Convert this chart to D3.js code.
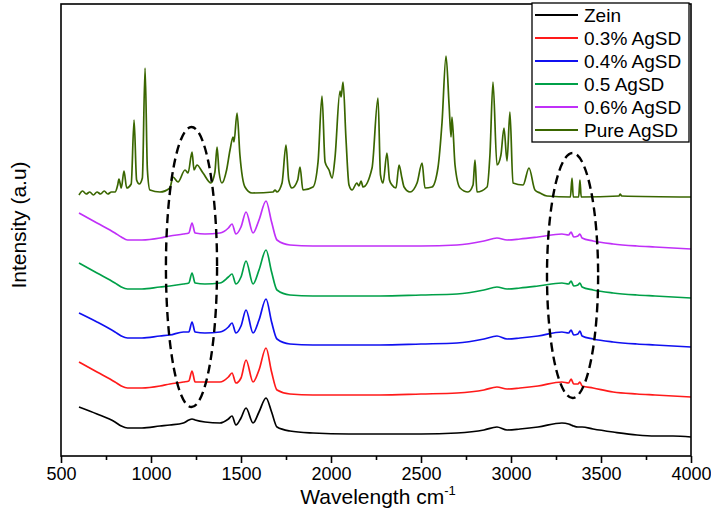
<!DOCTYPE html>
<html>
<head>
<meta charset="utf-8">
<script src="https://cdn.jsdelivr.net/npm/d3@7"></script>
<style>
  html, body { margin: 0; padding: 0; background: #fff; }
  svg { display: block; font-family: Arial, "Liberation Sans", sans-serif; }
</style>
</head>
<body>
<svg id="chart" width="711" height="521"></svg>
<script>
// ---------------- DATA ----------------
const seriesNames = ["Zein", "0.3% AgSD", "0.4% AgSD", "0.5 AgSD", "0.6% AgSD", "Pure AgSD"];
const seriesColors = ["#000000", "#ff1a1a", "#1010f0", "#00a048", "#c030f8", "#3a6600"];

// shared wavenumber grid for the film spectra (cm-1)
const waveGrid = [600,700,800,835,870,950,1050,1105,1180,1210,1228,1245,1300,1383,1430,1450,1472,1500,1528,1567,1600,1639,1670,1700,1772,1900,2100,2272,2500,2700,2850,2922,2978,3050,3150,3283,3320,3334,3348,3372,3383,3395,3456,3567,3700,3800,3900,4000];

// stacked intensities (a.u., offsets included)
const zein   = [49,42,34,30,28,28,30,31,33,36,37,36,34,33,37,40,31,38,48,33,44,58,44,29,25,23,22,22,22,23,26,29,26,27,29,33,32,31,30,29,29,29,27,24,21,20,20,19];
const agsd03 = [94,84,74,70,68,68,70,72,74,75,85,74,74,74,79,83,73,78,96,74,86,108,84,66,62,61,61,61,62,63,66,69,67,68,70,74,73,77,72,72,74,70,68,64,62,61,60,59];
const agsd04 = [143,134,124,120,118,118,120,121,124,124,134,124,123,124,129,133,123,130,146,123,136,157,134,117,112,111,111,111,112,113,117,120,117,118,120,124,123,126,121,122,125,120,117,114,112,111,110,109];
const agsd05 = [193,183,173,169,167,167,169,170,172,173,183,173,172,173,179,182,172,179,195,172,186,206,184,166,161,160,160,160,161,162,166,169,167,168,170,173,172,175,170,171,173,169,166,163,161,160,159,158];
const agsd06 = [243,233,223,219,216,216,218,220,222,223,233,223,222,223,228,232,222,229,244,223,236,255,234,216,211,210,210,210,210,211,215,218,216,217,219,222,221,224,219,220,222,218,215,212,210,209,208,207];

// pure AgSD spectrum
const pureWave = [600,620,640,660,680,700,720,740,760,780,800,815,822,835,850,865,890,906,920,935,952,967,980,994,1050,1105,1122,1150,1189,1206,1228,1239,1255,1289,1333,1355,1367,1378,1394,1420,1439,1456,1461,1478,1494,1522,1561,1678,1689,1700,1728,1750,1765,1783,1815,1828,1844,1900,1928,1950,1967,1989,2006,2022,2050,2056,2067,2083,2100,2117,2144,2155,2167,2178,2228,2261,2275,2289,2311,2325,2339,2361,2378,2394,2406,2439,2478,2506,2522,2561,2594,2617,2639,2656,2667,2672,2689,2717,2761,2789,2800,2811,2867,2883,2900,2922,2944,2961,2978,2994,3011,3067,3100,3133,3161,3200,3330,3339,3346,3376,3383,3390,3600,3606,3615,4000];
const pureAgSD = [261,265,262,264,261,264,262,265,262,264,264,271,277,268,285,268,272,336,276,272,278,388,286,266,264,268,279,274,286,283,304,286,291,283,273,284,309,284,273,286,306,319,314,343,301,269,263,264,266,264,273,311,276,268,276,289,266,269,294,360,294,286,278,298,365,359,374,318,271,266,273,270,275,269,288,358,281,273,303,276,271,268,291,278,269,264,273,293,268,269,288,334,400,351,319,339,291,268,264,271,296,264,269,301,374,291,301,328,295,344,273,271,288,266,263,260,259,278,259,259,276,259,260,262,260,259];

// x-axis ticks
const xTicks = [500,1000,1500,2000,2500,3000,3500,4000];
const xMinorTicks = [750,1250,1750,2250,2750,3250,3750];

// dashed highlight ellipses: centre (cm-1, a.u.), half-width (cm-1), half-height (a.u.)
const highlightCx = [1225, 3342];
const highlightCy = [189, 180.5];
const highlightRx = [142, 142];
const highlightRy = [140, 122.5];

// ---------------- CHART ----------------
const svg = d3.select("#chart");
const margin = {left: 61, right: 20, top: 4, bottom: 65};
const W = 711, H = 521;
const x = d3.scaleLinear().domain([500, 4000]).range([margin.left, W - margin.right]);
const y = d3.scaleLinear().domain([0, 452]).range([H - margin.bottom, margin.top]);

const filmSeries = [zein, agsd03, agsd04, agsd05, agsd06];
const line = d3.line().x(d => x(d[0])).y(d => y(d[1])).curve(d3.curveMonotoneX);

const plot = svg.append("g");
filmSeries.forEach((vals, i) => {
  plot.append("path")
    .datum(waveGrid.map((w, j) => [w, vals[j]]))
    .attr("fill", "none")
    .attr("stroke", seriesColors[i])
    .attr("stroke-width", 1.7)
    .attr("stroke-linejoin", "round")
    .attr("d", line);
});
plot.append("path")
  .datum(pureWave.map((w, j) => [w, pureAgSD[j]]))
  .attr("fill", "none")
  .attr("stroke", seriesColors[5])
  .attr("stroke-width", 1.7)
  .attr("stroke-linejoin", "round")
  .attr("d", line);

// dashed ellipses
highlightCx.forEach((cx, i) => {
  plot.append("ellipse")
    .attr("cx", x(cx))
    .attr("cy", y(highlightCy[i]))
    .attr("rx", x(cx + highlightRx[i]) - x(cx))
    .attr("ry", y(highlightCy[i] - highlightRy[i]) - y(highlightCy[i]))
    .attr("fill", "none")
    .attr("stroke", "#000")
    .attr("stroke-width", 2.4)
    .attr("stroke-dasharray", "9,5");
});

// frame
svg.append("rect")
  .attr("x", margin.left).attr("y", margin.top)
  .attr("width", W - margin.right - margin.left)
  .attr("height", H - margin.bottom - margin.top)
  .attr("fill", "none").attr("stroke", "#000").attr("stroke-width", 1.6);

// bottom axis
const xAxis = d3.axisBottom(x).tickValues(xTicks).tickSize(7).tickPadding(4).tickFormat(d3.format("d"));
const gx = svg.append("g").attr("transform", `translate(0,${H - margin.bottom})`).call(xAxis);
gx.select(".domain").remove();
gx.selectAll(".tick line").attr("stroke-width", 1.6);
gx.selectAll(".tick text").attr("font-size", 18).attr("font-family", "Arial, 'Liberation Sans', sans-serif").attr("fill", "#000");
const gxm = svg.append("g").attr("transform", `translate(0,${H - margin.bottom})`)
  .call(d3.axisBottom(x).tickValues(xMinorTicks).tickSize(4).tickFormat(""));
gxm.select(".domain").remove();
gxm.selectAll(".tick line").attr("stroke-width", 1.6);

// axis titles
const xt = svg.append("text")
  .attr("x", (margin.left + W - margin.right) / 2 + 2)
  .attr("y", 504)
  .attr("text-anchor", "middle")
  .attr("font-size", 21)
  .attr("fill", "#000");
xt.append("tspan").text("Wavelength cm");
xt.append("tspan").attr("dy", -9).attr("font-size", 13).text("-1");

svg.append("text")
  .attr("transform", `translate(26,225) rotate(-90)`)
  .attr("text-anchor", "middle")
  .attr("font-size", 21)
  .attr("fill", "#000")
  .text("Intensity (a.u)");

// legend
const lgX = 532, lgY = 3, lgW = 157, lgH = 139;
const lg = svg.append("g");
lg.append("rect").attr("x", lgX).attr("y", lgY).attr("width", lgW).attr("height", lgH)
  .attr("fill", "#fff").attr("stroke", "#000").attr("stroke-width", 1.3);
seriesNames.forEach((name, i) => {
  const cy = 15 + i * 23;
  lg.append("line").attr("x1", 535).attr("x2", 578).attr("y1", cy).attr("y2", cy)
    .attr("stroke", seriesColors[i]).attr("stroke-width", 1.8);
  lg.append("text").attr("x", 584).attr("y", cy + 6.5)
    .attr("font-size", 19).attr("fill", "#000").text(name);
});
</script>
</body>
</html>
